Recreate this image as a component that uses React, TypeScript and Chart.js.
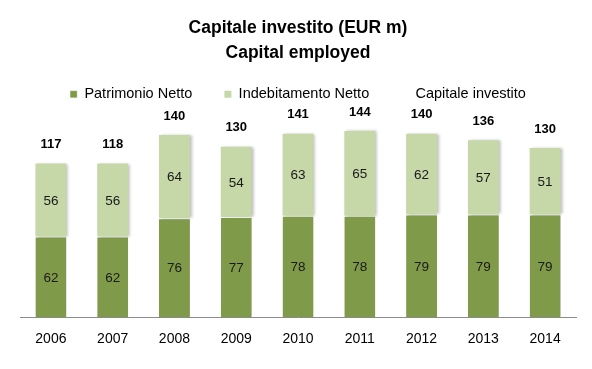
import React, { useEffect, useRef } from "react";
import { Chart, registerables } from "chart.js";

Chart.register(...registerables);

const years = ["2006", "2007", "2008", "2009", "2010", "2011", "2012", "2013", "2014"];
const patrimonioNetto = [62, 62, 76, 77, 78, 78, 79, 79, 79];
const indebitamentoNetto = [56, 56, 64, 54, 63, 65, 62, 57, 51];
const capitaleInvestito = [117, 118, 140, 130, 141, 144, 140, 136, 130];

const FONT = "'Liberation Sans', Arial, sans-serif";
const DARK = "#7F9A48";
const LIGHT = "#C6D7A8";

const shadowPlugin = {
  id: "barShadow",
  beforeDatasetsDraw(chart: any) {
    const ctx = chart.ctx;
    ctx.save();
    ctx.shadowColor = "rgba(0,0,0,0.28)";
    ctx.shadowBlur = 3;
    ctx.shadowOffsetX = 2;
    ctx.shadowOffsetY = 0;
  },
  afterDatasetsDraw(chart: any) {
    chart.ctx.restore();
  },
};

const labelPlugin = {
  id: "valueLabels",
  afterDatasetsDraw(chart: any) {
    const ctx = chart.ctx;
    ctx.save();
    ctx.textAlign = "center";
    ctx.textBaseline = "middle";
    chart.data.datasets.forEach((ds: any, di: number) => {
      const meta = chart.getDatasetMeta(di);
      if (meta.type === "bar") {
        ctx.font = `13.5px ${FONT}`;
        ctx.fillStyle = "#1a1a1a";
        meta.data.forEach((el: any, i: number) => {
          const c = el.getCenterPoint();
          ctx.fillText(String(ds.data[i]), c.x, c.y + 1);
        });
      } else {
        ctx.font = `bold 13px ${FONT}`;
        ctx.fillStyle = "#000";
        const barMeta = chart.getDatasetMeta(1);
        meta.data.forEach((el: any, i: number) => {
          const top = barMeta.data[i].y;
          ctx.fillText(String(ds.data[i]), el.x, top - 19);
        });
      }
    });
    ctx.restore();
  },
};

export default function App() {
  const ref = useRef<HTMLCanvasElement>(null);
  useEffect(() => {
    document.body.style.margin = "0";
    const chart = new Chart(ref.current!, {
      type: "bar",
      data: {
        labels: years,
        datasets: [
          {
            label: "Patrimonio Netto",
            data: patrimonioNetto,
            backgroundColor: DARK,
            borderColor: "#ffffff",
            borderWidth: { top: 1, left: 0, right: 0, bottom: 0 },
            borderSkipped: false,
            stack: "bars",
            barPercentage: 0.5,
            categoryPercentage: 1,
          },
          {
            label: "Indebitamento Netto",
            data: indebitamentoNetto,
            backgroundColor: LIGHT,
            borderWidth: 0,
            stack: "bars",
            barPercentage: 0.5,
            categoryPercentage: 1,
          },
          {
            type: "line",
            label: "Capitale investito",
            data: capitaleInvestito,
            backgroundColor: "rgba(0,0,0,0)",
            borderColor: "rgba(0,0,0,0)",
            showLine: false,
            pointRadius: 0,
            stack: "total",
          } as any,
        ],
      },
      options: {
        animation: false,
        responsive: false,
        layout: { padding: { left: 20, right: 16, top: 0, bottom: 7 } },
        plugins: {
          title: {
            display: true,
            text: ["Capitale investito (EUR m)", "Capital employed"],
            color: "#000",
            font: { family: FONT, size: 17.5, weight: "bold", lineHeight: 1.43 },
            padding: { top: 16, bottom: -11 },
          },
          legend: {
            display: true,
            position: "top",
            labels: {
              color: "#000",
              font: { family: FONT, size: 14.5 },
              boxWidth: 7,
              boxHeight: 7,
              padding: 32,
            },
          },
          tooltip: { enabled: false },
        },
        scales: {
          x: {
            stacked: true,
            grid: { display: false, drawTicks: false },
            border: { display: true, color: "#8c8c8c", width: 1 },
            ticks: { color: "#000", font: { family: FONT, size: 14 }, padding: 14 },
          },
          y: {
            stacked: true,
            display: false,
            min: 0,
            max: 158,
          },
        },
      },
      plugins: [shadowPlugin, labelPlugin],
    });
    return () => chart.destroy();
  }, []);
  return (
    <div style={{ width: 592, height: 369, background: "#fff" }}>
      <canvas ref={ref} width={592} height={369} style={{ display: "block" }} />
    </div>
  );
}
